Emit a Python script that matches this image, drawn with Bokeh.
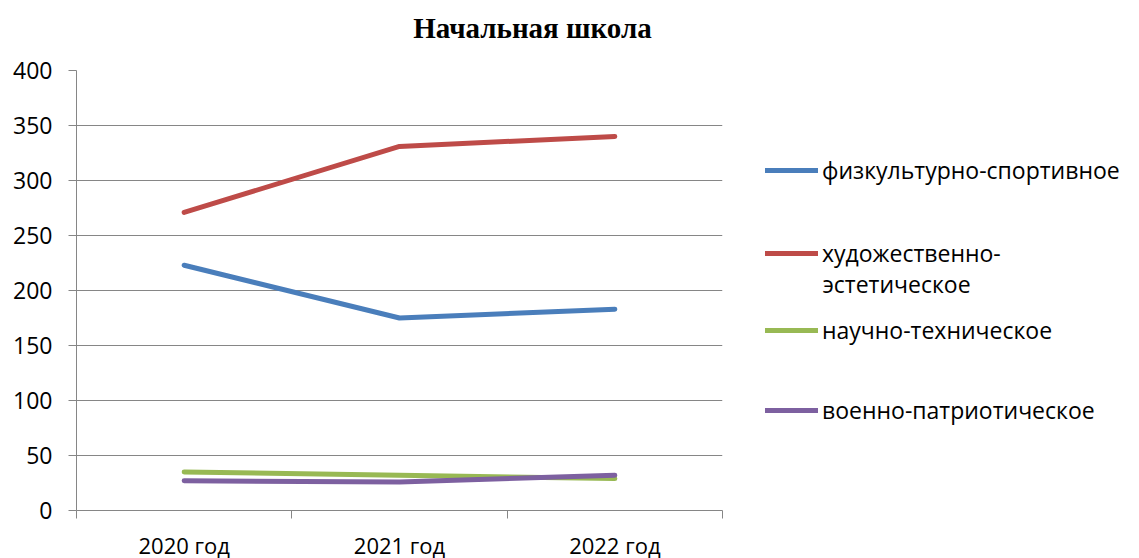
from bokeh.plotting import figure
from bokeh.models import Range1d, FixedTicker, Legend, LegendItem, Label
from bokeh.layouts import row, column
from bokeh.embed import file_html
from bokeh.resources import INLINE

title = "Начальная школа"
categories = ["2020 год", "2021 год", "2022 год"]
series_names = ["физкультурно-спортивное", "художественно-эстетическое",
                "научно-техническое", "военно-патриотическое"]
sport = [223, 175, 183]
art = [271, 331, 340]
science = [35, 32, 29]
military = [27, 26, 32]
colors = ["#4A7EBB", "#BE4B48", "#98B954", "#7D60A0"]
y_ticks = [0, 50, 100, 150, 200, 250, 300, 350, 400]

FONT = "Open Sans"
GRID = "#868686"
TH = 50  # height of the title strip

x = list(range(1, len(categories) + 1))

# ---- title strip
tf = figure(width=1135, height=TH, output_backend="svg", toolbar_location=None,
            x_range=Range1d(0, 1135), y_range=Range1d(0, TH),
            x_axis_location=None, y_axis_location=None,
            min_border=0, outline_line_color=None)
tf.grid.visible = False
tf.add_layout(Label(x=532, y=TH - 27, text=title, text_font="Liberation Serif",
                    text_font_style="bold", text_font_size="29px", text_color="black",
                    text_align="center", text_baseline="middle"))

# ---- main chart
p = figure(frame_width=646, frame_height=440, output_backend="svg", toolbar_location=None,
           x_range=Range1d(0.5, len(categories) + 0.5), y_range=Range1d(0, 400))
p.min_border_left = 76
p.min_border_right = 18
p.min_border_top = 70 - TH
p.min_border_bottom = 48
p.outline_line_color = None
p.background_fill_color = "white"

p.yaxis.ticker = FixedTicker(ticks=y_ticks)
p.yaxis.axis_line_color = GRID
p.yaxis.major_tick_line_color = GRID
p.yaxis.major_tick_out = 8
p.yaxis.major_tick_in = 0
p.yaxis.minor_tick_line_color = None
p.yaxis.major_label_text_font = FONT
p.yaxis.major_label_text_font_size = "23px"
p.yaxis.major_label_text_color = "black"
p.yaxis.major_label_standoff = 16

p.xaxis.ticker = FixedTicker(ticks=x, minor_ticks=[i + 0.5 for i in range(0, len(categories) + 1)])
p.xaxis.major_label_overrides = {i: c for i, c in zip(x, categories)}
p.xaxis.axis_line_color = GRID
p.xaxis.major_tick_line_color = None
p.xaxis.major_tick_out = 0
p.xaxis.major_tick_in = 0
p.xaxis.minor_tick_line_color = GRID
p.xaxis.minor_tick_out = 8
p.xaxis.minor_tick_in = 0
p.xaxis.major_label_text_font = FONT
p.xaxis.major_label_text_font_size = "22px"
p.xaxis.major_label_text_color = "black"
p.xaxis.major_label_standoff = 11

p.xgrid.grid_line_color = None
p.ygrid.grid_line_color = GRID
p.ygrid.grid_line_width = 1

for vals, col in zip([sport, art, science, military], colors):
    p.line(x, vals, line_color=col, line_width=5, line_cap="round", line_join="round")

# ---- legend panel to the right
LPH = 508
LB = 508  # page y of the legend panel frame's bottom (measured)
IH = 32
lp = figure(width=395, height=LPH, output_backend="svg", toolbar_location=None,
            x_range=Range1d(0, 1), y_range=Range1d(0, 1),
            x_axis_location=None, y_axis_location=None,
            min_border=0, outline_line_color=None)
lp.grid.visible = False

legend_labels = ["физкультурно-спортивное", "художественно-", "научно-техническое", "военно-патриотическое"]
legend_centers = [172, 255, 332, 412]
for lab, col, cy in zip(legend_labels, colors, legend_centers):
    r = lp.line(x=[-5, -4], y=[-5, -5], line_color=col, line_width=5, line_cap="round")
    lg = Legend(items=[LegendItem(label=lab, renderers=[r])], location=(25, LB - cy - IH // 2),
                padding=0, margin=0, spacing=0, border_line_color=None,
                background_fill_alpha=0, glyph_width=53, glyph_height=IH,
                label_height=IH, label_standoff=4,
                label_text_font=FONT, label_text_font_size="23px",
                label_text_color="black")
    lp.add_layout(lg)

lp.add_layout(Label(x=82, y=LB - 285, x_units="screen", y_units="screen", text="эстетическое",
                    text_font=FONT, text_font_size="23px", text_baseline="middle",
                    text_align="left", text_color="black"))

layout = column(tf, row(p, lp))
open("out.html", "w").write(file_html(layout, INLINE))
